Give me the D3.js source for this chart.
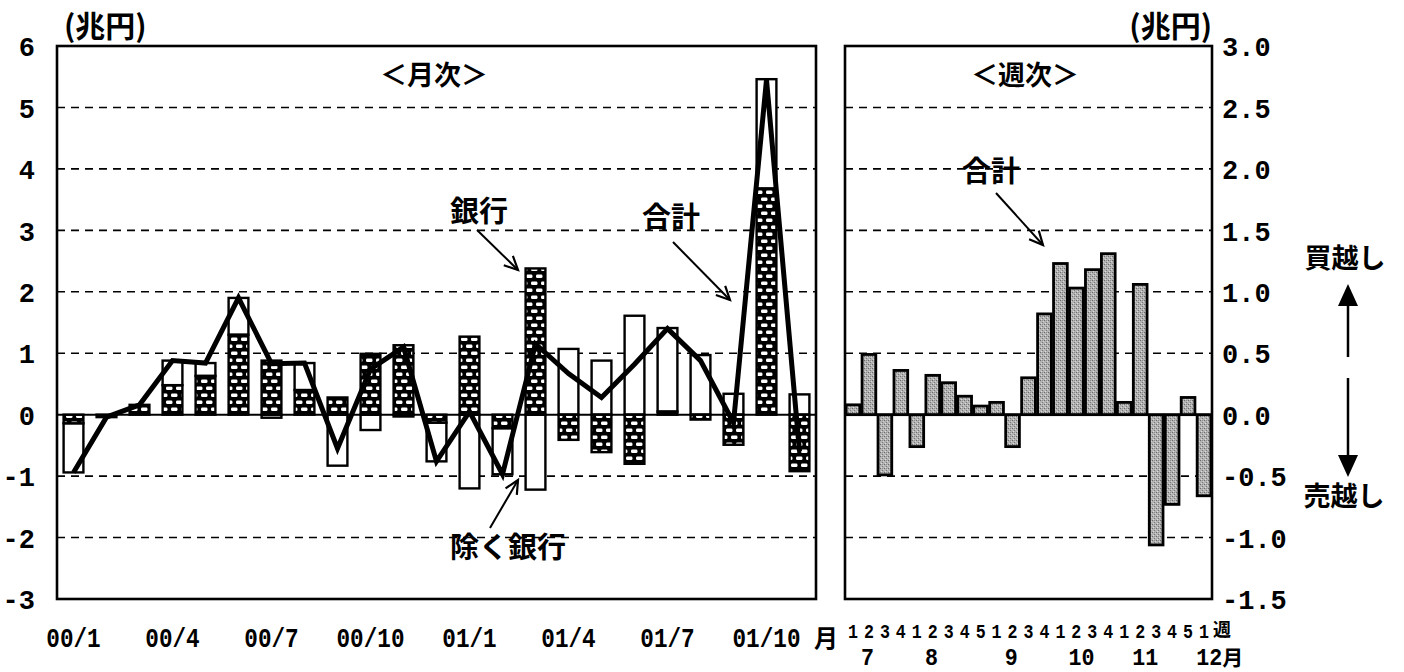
<!DOCTYPE html>
<html>
<head>
<meta charset="utf-8">
<script src="https://cdn.jsdelivr.net/npm/d3@7/dist/d3.min.js"></script>
<style>
  html, body { margin: 0; padding: 0; background: #fff; }
  svg { display: block; }
  .num { font-family: "Liberation Mono", "DejaVu Sans Mono", monospace; fill: #000; }
  .jp { font-family: "Noto Sans CJK JP", sans-serif; fill: #000; }
</style>
</head>
<body>
<svg id="chart" width="1404" height="672"></svg>
<script>
// ---- monthly data (兆円) ----
const months = ["00/1","00/2","00/3","00/4","00/5","00/6","00/7","00/8","00/9","00/10","00/11","00/12",
                "01/1","01/2","01/3","01/4","01/5","01/6","01/7","01/8","01/9","01/10","01/11"];
const monthTickLabels = ["00/1","00/4","00/7","00/10","01/1","01/4","01/7","01/10"];
// 銀行
const bank   = [-0.14,-0.04, 0.16, 0.48, 0.63, 1.30, 0.88, 0.40, 0.28, 0.99, 1.13,-0.13,
                 1.27,-0.22, 2.38,-0.41,-0.61,-0.80, 0.05,-0.08,-0.49, 3.68,-0.92];
// 除く銀行
const exBank = [-0.80, 0.00, 0.00, 0.40, 0.21, 0.60,-0.05, 0.44,-0.83,-0.25,-0.03,-0.63,
                -1.20,-0.75,-1.22, 1.07, 0.88, 1.61, 1.36, 0.97, 0.34, 1.78, 0.33];
// 合計
const total  = [-0.94,-0.04, 0.16, 0.88, 0.84, 1.90, 0.83, 0.84,-0.55, 0.74, 1.10,-0.76,
                 0.05,-0.97, 1.15, 0.67, 0.28, 0.82, 1.40, 0.88,-0.13, 5.45,-0.60];
const leftTicks = [6,5,4,3,2,1,0,-1,-2,-3];

// ---- weekly data (兆円) ----
const weekLabels = ["1","2","3","4","1","2","3","4","5","1","2","3","4","1","2","3","4","1","2","3","4","5","1"];
const weekMonths = ["7","8","9","10","11","12月"];
const weeksPerMonth = [4,5,4,4,5,1];
const weekly = [0.08, 0.49,-0.49, 0.36,-0.26, 0.32, 0.26, 0.15, 0.07, 0.10,-0.26, 0.30,
                0.82, 1.23, 1.03, 1.18, 1.31, 0.10, 1.06,-1.06,-0.73, 0.14,-0.66];
const rightTicks = [3.0,2.5,2.0,1.5,1.0,0.5,0.0,-0.5,-1.0,-1.5];

const svg = d3.select("#chart");
svg.append("rect").attr("width",1404).attr("height",672).attr("fill","#fff");

// ---- fill patterns ----
const defs = svg.append("defs");
const pb = defs.append("pattern").attr("id","bankFill").attr("patternUnits","userSpaceOnUse")
  .attr("width",10).attr("height",14);
pb.append("rect").attr("width",10).attr("height",14).attr("fill","#000");
[[1,1.5],[6,8.5],[-4,8.5]].forEach(([x,y]) => pb.append("rect").attr("x",x).attr("y",y)
  .attr("width",6.5).attr("height",3.6).attr("rx",1.4).attr("fill","#fff"));

const pg = defs.append("pattern").attr("id","weekFill").attr("patternUnits","userSpaceOnUse")
  .attr("width",4).attr("height",4);
pg.append("rect").attr("width",4).attr("height",4).attr("fill","#b2b2b2");
[[0,0,"#6a6a6a"],[2,2,"#7a7a7a"],[1,3,"#dcdcdc"],[3,1,"#d4d4d4"],[2,0,"#909090"]].forEach(([x,y,c]) =>
  pg.append("rect").attr("x",x).attr("y",y).attr("width",1).attr("height",1).attr("fill",c));

// ---- geometry ----
const plotTop = 46, plotBottom = 599;
const L = {x0: 57, x1: 816};
const R = {x0: 845, x1: 1212};

const xM = d3.scaleBand().domain(months).range([L.x0, L.x1]).paddingInner(0.4).paddingOuter(0.2);
const yL = d3.scaleLinear().domain([-3, 6]).range([plotBottom, plotTop]);
const xW = d3.scaleBand().domain(d3.range(weekly.length)).range([R.x0, R.x1]).paddingInner(0.14).paddingOuter(0.07);
const yR = d3.scaleLinear().domain([-1.5, 3]).range([plotBottom, plotTop]);

// ---- left panel: 月次 ----
const gL = svg.append("g");
gL.selectAll("line.grid").data(leftTicks.filter(t => t !== 0 && t !== 6 && t !== -3)).join("line")
  .attr("x1", L.x0).attr("x2", L.x1).attr("y1", d => yL(d)).attr("y2", d => yL(d))
  .attr("stroke","#000").attr("stroke-width",1.6).attr("stroke-dasharray","8,6");

// stacked segments: 銀行 from zero, 除く銀行 on top when signs agree
const segs = months.map((m, i) => {
  const b = bank[i], e = exBank[i];
  const eBase = (Math.sign(b) === Math.sign(e)) ? b : 0;
  return {m, b, e0: eBase, e1: eBase + e};
});
gL.selectAll("rect.ex").data(segs.filter(d => d.e1 !== d.e0)).join("rect")
  .attr("x", d => xM(d.m)).attr("width", xM.bandwidth())
  .attr("y", d => yL(Math.max(d.e0, d.e1))).attr("height", d => Math.abs(yL(d.e0) - yL(d.e1)))
  .attr("fill","#fff").attr("stroke","#000").attr("stroke-width",2.4);
gL.selectAll("rect.bk").data(segs.filter(d => d.b !== 0)).join("rect")
  .attr("x", d => xM(d.m)).attr("width", xM.bandwidth())
  .attr("y", d => yL(Math.max(0, d.b))).attr("height", d => Math.abs(yL(0) - yL(d.b)))
  .attr("fill","url(#bankFill)").attr("stroke","#000").attr("stroke-width",2.4);

gL.append("line").attr("x1",L.x0).attr("x2",L.x1).attr("y1",yL(0)).attr("y2",yL(0))
  .attr("stroke","#000").attr("stroke-width",2);

gL.append("path").datum(total)
  .attr("d", d3.line().x((d,i) => xM(months[i]) + xM.bandwidth()/2).y(d => yL(d)))
  .attr("fill","none").attr("stroke","#000").attr("stroke-width",5).attr("stroke-linejoin","miter");

gL.append("rect").attr("x",L.x0).attr("y",plotTop).attr("width",L.x1-L.x0).attr("height",plotBottom-plotTop)
  .attr("fill","none").attr("stroke","#000").attr("stroke-width",2.6);

// left y axis
const axL = svg.append("g").attr("transform",`translate(${L.x0 - 22},0)`)
  .call(d3.axisLeft(yL).tickValues(leftTicks).tickSize(0).tickPadding(0).tickFormat(d => String(d)));
axL.select(".domain").remove();
axL.selectAll("text").attr("class","num").attr("font-size",27).attr("font-weight","bold")
  .attr("dy","0.36em").attr("fill","#000").style("font-family",'"Liberation Mono", monospace');

// left x labels (narrow, tall figures)
svg.selectAll("text.mlab").data(monthTickLabels).join("text")
  .attr("class","num").attr("x", d => xM(d) + xM.bandwidth()/2).attr("y",647)
  .attr("text-anchor","middle").attr("font-size",28).attr("font-weight","bold")
  .attr("textLength", d => d.length * 13.6).attr("lengthAdjust","spacingAndGlyphs").text(d => d);
svg.append("text").attr("class","jp").attr("x",826).attr("y",647).attr("text-anchor","middle")
  .attr("font-size",24).attr("font-weight","bold").text("月");

// ---- right panel: 週次 ----
const gR = svg.append("g");
gR.selectAll("line.grid").data(rightTicks.filter(t => t !== 0 && t !== 3 && t !== -1.5)).join("line")
  .attr("x1", R.x0).attr("x2", R.x1).attr("y1", d => yR(d)).attr("y2", d => yR(d))
  .attr("stroke","#000").attr("stroke-width",1.6).attr("stroke-dasharray","8,6");
gR.selectAll("rect.wk").data(weekly).join("rect")
  .attr("x", (d,i) => xW(i)).attr("width", xW.bandwidth())
  .attr("y", d => yR(Math.max(0,d))).attr("height", d => Math.abs(yR(0) - yR(d)))
  .attr("fill","url(#weekFill)").attr("stroke","#000").attr("stroke-width",2.8);
gR.append("line").attr("x1",R.x0).attr("x2",R.x1).attr("y1",yR(0)).attr("y2",yR(0))
  .attr("stroke","#000").attr("stroke-width",2);
gR.append("rect").attr("x",R.x0).attr("y",plotTop).attr("width",R.x1-R.x0).attr("height",plotBottom-plotTop)
  .attr("fill","none").attr("stroke","#000").attr("stroke-width",2.6);

// right y axis
const axR = svg.append("g").attr("transform",`translate(${R.x1 + 10},0)`)
  .call(d3.axisRight(yR).tickValues(rightTicks).tickSize(0).tickPadding(0).tickFormat(d => d.toFixed(1)));
axR.select(".domain").remove();
axR.selectAll("text").attr("class","num").attr("font-size",27).attr("font-weight","bold")
  .attr("dy","0.36em").attr("fill","#000").style("font-family",'"Liberation Mono", monospace');

// week labels
svg.selectAll("text.wlab").data(weekLabels).join("text")
  .attr("class","num").attr("x", (d,i) => xW(i) + xW.bandwidth()/2).attr("y",638)
  .attr("text-anchor","middle").attr("font-size",20).attr("font-weight","bold")
  .attr("textLength",10).attr("lengthAdjust","spacingAndGlyphs").text(d => d);
svg.append("text").attr("class","jp").attr("x",1222).attr("y",636).attr("text-anchor","middle")
  .attr("font-size",18).attr("font-weight","bold").text("週");
const monthStart = d3.cumsum([0, ...weeksPerMonth.slice(0,-1)]);
svg.selectAll("text.wmon").data(weekMonths).join("text")
  .attr("x", (d,i) => xW(monthStart[i] + (weeksPerMonth[i] > 1 ? 1 : 0)) - 1)
  .attr("y",665).attr("font-size",23).attr("font-weight","bold")
  .each(function(d) {
    const t = d3.select(this);
    const num = d.replace("月","");
    t.append("tspan").attr("class","num").style("font-family",'"Liberation Mono", monospace')
      .attr("textLength", num.length * 13).attr("lengthAdjust","spacingAndGlyphs").text(num);
    if (d.endsWith("月")) t.append("tspan").attr("class","jp").style("font-family",'"Noto Sans CJK JP", sans-serif')
      .attr("font-size",21).text("月");
  });

// ---- titles and annotations ----
function jp(text, x, y, size, anchor) {
  return svg.append("text").attr("class","jp").attr("x",x).attr("y",y)
    .attr("text-anchor",anchor || "middle").attr("font-size",size).attr("font-weight","bold").text(text);
}
jp("(兆円)", 64, 37, 30, "start");
jp("(兆円)", 1212, 37, 30, "end");
jp("＜月次＞", 434, 85, 27);
jp("＜週次＞", 1025, 85, 27);
jp("銀行", 479, 222, 29);
jp("合計", 671, 228, 29);
jp("除く銀行", 508, 558, 29);
jp("合計", 991, 182, 29);
jp("買越し", 1345, 268, 27);
jp("売越し", 1344, 506, 27);

function pointer(x1, y1, x2, y2) {
  const a = Math.atan2(y2 - y1, x2 - x1), len = 15, spread = 0.45;
  svg.append("line").attr("x1",x1).attr("y1",y1).attr("x2",x2).attr("y2",y2)
    .attr("stroke","#000").attr("stroke-width",2);
  svg.append("path")
    .attr("d", `M${x2 - len*Math.cos(a - spread)},${y2 - len*Math.sin(a - spread)}L${x2},${y2}L${x2 - len*Math.cos(a + spread)},${y2 - len*Math.sin(a + spread)}`)
    .attr("fill","none").attr("stroke","#000").attr("stroke-width",2.2);
}
pointer(477, 230, 518, 270);
pointer(673, 242, 730, 300);
pointer(490, 528, 518, 480);
pointer(996, 193, 1043, 245);

// buy / sell direction arrows
const ax = 1348;
svg.append("line").attr("x1",ax).attr("x2",ax).attr("y1",300).attr("y2",357).attr("stroke","#000").attr("stroke-width",2.5);
svg.append("path").attr("d",`M${ax},284L${ax-10},306L${ax+10},306Z`).attr("fill","#000");
svg.append("line").attr("x1",ax).attr("x2",ax).attr("y1",378).attr("y2",460).attr("stroke","#000").attr("stroke-width",2.5);
svg.append("path").attr("d",`M${ax},477L${ax-10},455L${ax+10},455Z`).attr("fill","#000");
</script>
</body>
</html>
